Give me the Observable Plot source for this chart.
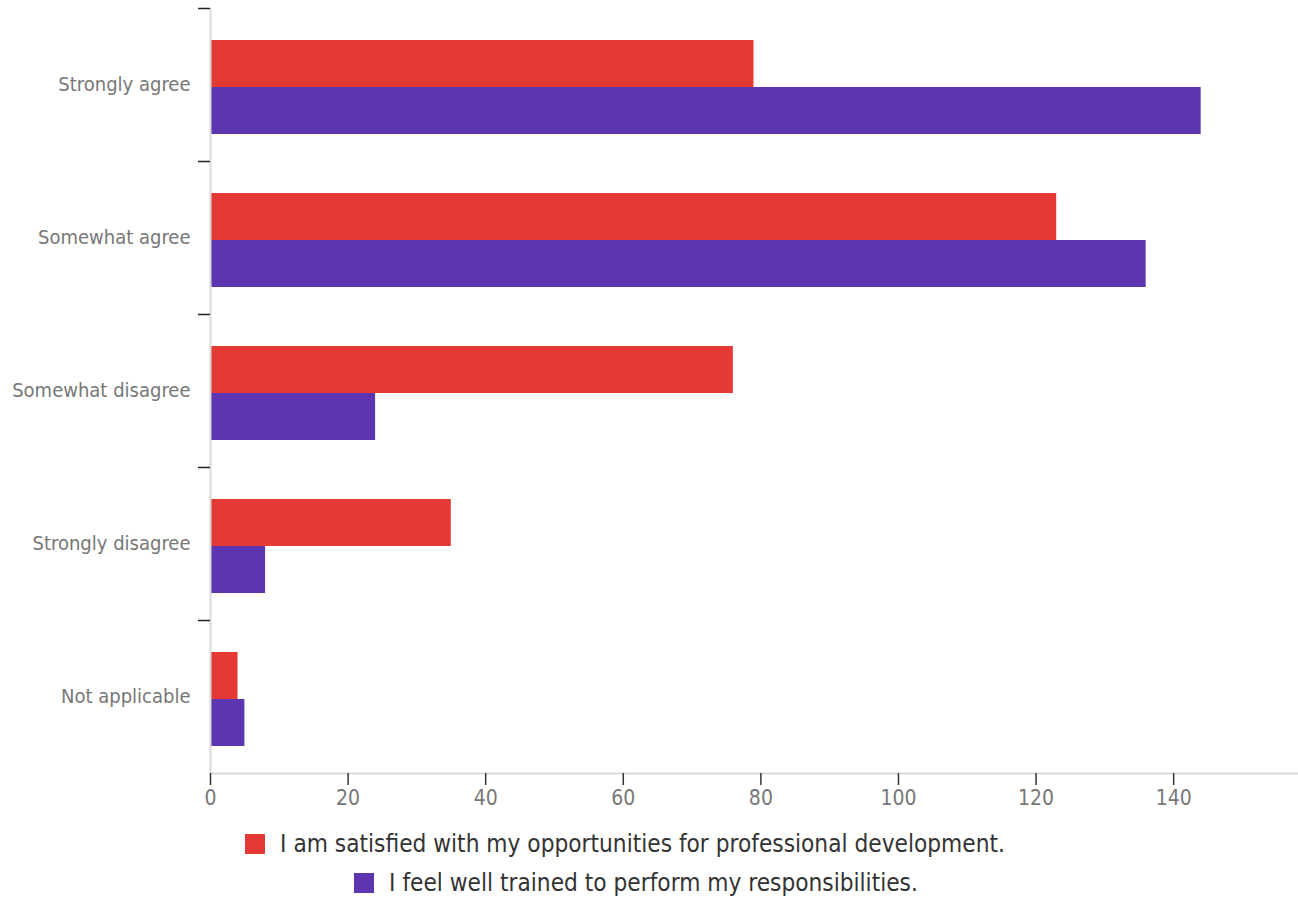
<!DOCTYPE html>
<html><head><meta charset="utf-8">
<script src="https://cdn.jsdelivr.net/npm/d3@7"></script>
<script src="https://cdn.jsdelivr.net/npm/@observablehq/plot@0.6"></script>
<style>
body{margin:0;background:#fff;font-family:"Liberation Sans Narrow","DejaVu Sans Condensed",sans-serif;}
#legend{width:1250px;padding-top:4px;}
.row{display:flex;justify-content:center;align-items:center;height:39px;font-size:24.2px;color:#333;}
.row + .row{padding-left:22px;}
.sw{width:20px;height:20px;margin-right:15px;flex:none;}
</style></head><body>
<div id="chart"></div><div id="legend"></div>
<script>
const categories = ["Strongly agree","Somewhat agree","Somewhat disagree","Strongly disagree","Not applicable"];
const seriesNames = ["I am satisfied with my opportunities for professional development.","I feel well trained to perform my responsibilities."];
const satisfiedValues = [79,123,76,35,4];
const trainedValues = [144,136,24,8,5];
const seriesColors = ["#e53935","#5e35b1"];
const xTicks = [0,20,40,60,80,100,120,140];

const data = [];
categories.forEach((c,i)=>{
  data.push({category:c, series:seriesNames[0], value:satisfiedValues[i]});
  data.push({category:c, series:seriesNames[1], value:trainedValues[i]});
});

const font = '"Liberation Sans Narrow","DejaVu Sans Condensed",sans-serif';
const chart = Plot.plot({
  width:1298, height:820,
  marginTop:8, marginBottom:47, marginLeft:210, marginRight:1,
  style:{fontFamily:font, fontSize:"20px", background:"#fff"},
  x:{domain:[0,158], axis:null},
  y:{domain:seriesNames, paddingInner:0, paddingOuter:0.61, align:0.535, axis:null},
  fy:{domain:categories, padding:0, axis:null},
  color:{domain:seriesNames, range:seriesColors},
  marks:[
    Plot.barX(data, {fy:"category", y:"series", x:"value", fill:"series"}),
    Plot.ruleX([0], {stroke:"#d9d9d9", strokeWidth:2}),
    Plot.frame({anchor:"bottom", stroke:"#d9d9d9", strokeWidth:2, facetAnchor:"bottom"}),
    Plot.axisX({ticks:xTicks, label:null, tickSize:12, tickPadding:5, stroke:"#333", strokeWidth:1.5, fill:"#777", fontSize:21, facetAnchor:"bottom"}),
    Plot.axisFy({anchor:"left", label:null, tickSize:0, tickPadding:20, fill:"#777", fontSize:20}),
    Plot.axisFy({anchor:"left", label:null, tickSize:12, dy:-76.5, tickFormat:()=>"", stroke:"#222", strokeWidth:1.5})
  ]
});
document.getElementById("chart").appendChild(chart);

const legend = document.getElementById("legend");
seriesNames.forEach((name,i)=>{
  const row = document.createElement("div");
  row.className = "row";
  const sw = document.createElement("span");
  sw.className = "sw";
  sw.style.background = seriesColors[i];
  const t = document.createElement("span");
  t.textContent = name;
  row.appendChild(sw); row.appendChild(t);
  legend.appendChild(row);
});
</script>
</body></html>
